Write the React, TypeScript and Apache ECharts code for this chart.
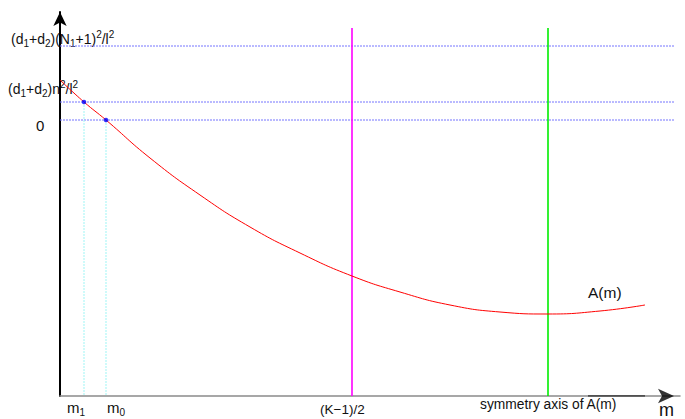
import React, { useEffect, useRef } from "react";
import * as echarts from "echarts";

// Sketch of A(m): a convex parabola in m with reference levels and marker lines.
const curveM = [0, 24, 46, 90, 140, 190, 240, 292, 340, 390, 440, 488, 540, 585];
const curveA = [40, 18, 0, -38, -75, -107, -133, -156, -172, -185, -192, -194, -191, -185];

// Horizontal reference levels: (d1+d2)(N1+1)^2/l^2, (d1+d2)n^2/l^2 and 0
const levels = [74, 18, 0];
const levelEnd = 615;

// Marked abscissas: m1, m0 (dotted, rising to their level), (K-1)/2 and the symmetry axis
const m1 = 24;
const m0 = 46;
const kHalf = 292;
const symAxis = 488;
const markerTop = 92;

const xMin = 0;
const xMax = 620;
const yMin = -276;
const yMax = 108;

const FONT = "'Liberation Sans', Arial, Helvetica, sans-serif";

export default function App() {
  const ref = useRef<HTMLDivElement>(null);

  useEffect(() => {
    if (!ref.current) return;
    document.body.style.margin = "0";
    const chart = echarts.init(ref.current, null, { renderer: "svg" });

    const levelSeries = levels.map((v) => ({
      type: "line",
      data: [
        [xMin, v],
        [levelEnd, v],
      ],
      symbol: "none",
      lineStyle: { color: "#7474ff", width: 1, type: [2, 1] },
      silent: true,
    }));

    const dotted = (x: number, yTop: number) => ({
      type: "line",
      data: [
        [x, yTop],
        [x, yMin],
      ],
      symbol: "none",
      lineStyle: { color: "#9ff5f5", width: 1, type: [2, 1] },
      silent: true,
    });

    const solid = (x: number, color: string) => ({
      type: "line",
      data: [
        [x, markerTop],
        [x, yMin],
      ],
      symbol: "none",
      lineStyle: { color, width: 1.6 },
      silent: true,
    });

    const ink = "#111";
    const sub = { fontSize: 10, verticalAlign: "bottom", lineHeight: 19, fontFamily: FONT, color: ink };
    const sup = { fontSize: 10, verticalAlign: "top", lineHeight: 19, fontFamily: FONT, color: ink };
    const base = { fontSize: 14, lineHeight: 19, fontFamily: FONT, color: ink };
    const bigSub = { fontSize: 10, verticalAlign: "bottom", lineHeight: 20, fontFamily: FONT, color: ink };
    const big = { fontSize: 15, lineHeight: 20, fontFamily: FONT, color: ink };

    const text = (left: number, top: number, t: string, rich: any, font = 13.5) => ({
      type: "text",
      left,
      top,
      z: -1,
      style: { text: t, rich, fontSize: font, fontFamily: FONT, fill: ink },
      silent: true,
    });

    chart.setOption({
      animation: false,
      grid: { left: 60, right: 5, top: 12, bottom: 23 },
      xAxis: {
        type: "value",
        min: xMin,
        max: xMax,
        axisLine: {
          show: true,
          onZero: false,
          lineStyle: { color: "#8a8a8a", width: 1.5 },
        },
        axisTick: { show: false },
        axisLabel: { show: false },
        splitLine: { show: false },
      },
      yAxis: {
        type: "value",
        min: yMin,
        max: yMax,
        axisLine: {
          show: true,
          onZero: false,
          symbol: ["none", "arrow"],
          symbolSize: [10, 14],
          lineStyle: { color: "#000", width: 2 },
        },
        axisTick: { show: false },
        axisLabel: { show: false },
        splitLine: { show: false },
      },
      series: [
        ...levelSeries,
        dotted(m1, levels[1]),
        dotted(m0, levels[2]),
        solid(kHalf, "#ff00ff"),
        solid(symAxis, "#00ee00"),
        {
          type: "line",
          data: [
            [528, yMin],
            [585, yMin],
          ],
          symbol: "none",
          lineStyle: { color: "#333", width: 1.5 },
          silent: true,
        },
        {
          type: "line",
          data: curveM.map((m, i) => [m, curveA[i]]),
          smooth: true,
          symbol: "none",
          lineStyle: { color: "#ff0000", width: 1 },
          z: 5,
          silent: true,
        },
        {
          type: "scatter",
          data: [
            [m1, levels[1]],
            [m0, levels[2]],
          ],
          symbolSize: 4.5,
          itemStyle: { color: "#0000ff" },
          z: 6,
          silent: true,
        },
        {
          // black head of the m axis
          type: "scatter",
          data: [[xMax - 6, yMin]],
          symbol: "arrow",
          symbolRotate: -90,
          symbolSize: [11, 16],
          itemStyle: { color: "#000" },
          clip: false,
          silent: true,
        },
      ],
      graphic: [
        text(11, 29, "{b|(d}{s|1}{b|+d}{s|2}{b|)(N}{s|1}{b|+1)}{p|2}{b|/l}{p|2}", { s: sub, p: sup, b: base }),
        text(8, 79, "{b|(d}{s|1}{b|+d}{s|2}{b|)n}{p|2}{b|/l}{p|2}", { s: sub, p: sup, b: base }),
        text(36, 118, "0", {}, 15),
        text(67, 400, "{g|m}{s|1}", { s: bigSub, g: big }),
        text(107, 400, "{g|m}{s|0}", { s: bigSub, g: big }),
        text(320, 402, "(K\u22121)/2", {}, 13.5),
        text(480, 397, "symmetry axis of A(m)", {}, 13.8),
        text(659, 401, "m", {}, 18),
        text(588, 284, "A(m)", {}, 15.5),
      ],
    });

    return () => chart.dispose();
  }, []);

  return <div ref={ref} style={{ width: 685, height: 419 }} />;
}
